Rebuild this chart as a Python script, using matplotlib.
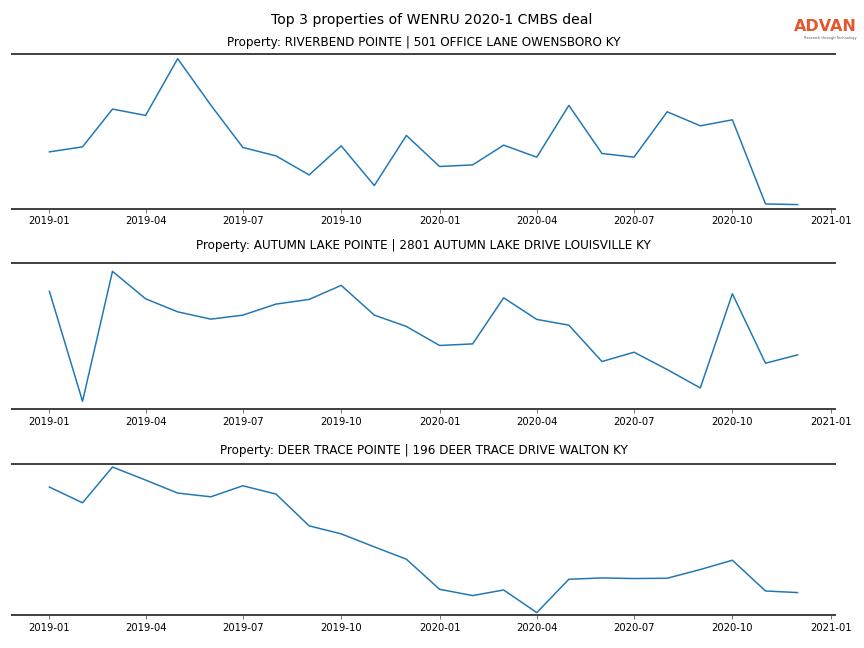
import pandas as pd
import matplotlib
matplotlib.use("Agg")
import matplotlib.pyplot as plt
import matplotlib.dates as mdates

# Monthly visit index per property
months = pd.date_range("2019-01-01", "2020-12-01", freq="MS")

riverbend = [57.0, 62.0, 99.7, 93.4, 150.0, 103.7, 61.4, 53.0, 34.0, 63.0, 23.4, 73.4,
             42.4, 44.0, 63.7, 51.7, 103.4, 55.4, 51.7, 97.0, 83.0, 89.0, 5.0, 4.4]
autumn_lake = [117.4, 7.7, 137.4, 110.0, 97.0, 89.7, 93.7, 104.7, 109.4, 123.4, 93.7, 82.4,
               63.4, 65.0, 111.0, 89.4, 83.7, 47.4, 56.7, 39.4, 21.0, 115.0, 45.7, 54.0]
deer_trace = [127.7, 112.0, 147.7, 134.7, 121.7, 118.0, 129.0, 120.7, 89.0, 81.0, 68.0, 55.7,
              25.7, 19.4, 25.0, 2.4, 35.7, 37.0, 36.4, 36.7, 45.4, 54.7, 24.0, 22.4]

titles = [
    "Property: RIVERBEND POINTE | 501 OFFICE LANE OWENSBORO KY",
    "Property: AUTUMN LAKE POINTE | 2801 AUTUMN LAKE DRIVE LOUISVILLE KY",
    "Property: DEER TRACE POINTE | 196 DEER TRACE DRIVE WALTON KY",
]
series = [riverbend, autumn_lake, deer_trace]
ylims = [(0, 154.7), (0, 145.7), (0, 150.7)]
pads = [8, 14, 10]

# axes boxes [left, bottom, width, height]
boxes = [
    [0.0139, 0.6775, 0.9525, 0.2392],
    [0.0139, 0.3688, 0.9525, 0.2253],
    [0.0139, 0.0509, 0.9525, 0.2330],
]

fig = plt.figure(figsize=(12, 9), dpi=72)
fig.suptitle("Top 3 properties of WENRU 2020-1 CMBS deal", fontsize=14,
             y=0.9625, va="baseline")

for box, vals, title, ylim, pad in zip(boxes, series, titles, ylims, pads):
    ax = fig.add_axes(box)
    ax.plot(months, vals, color="#1f77b4", linewidth=1.5)
    ax.set_title(title, fontsize=12, pad=pad)
    ax.set_ylim(*ylim)
    ax.set_yticks([])
    ax.xaxis.set_major_locator(mdates.MonthLocator(bymonth=[1, 4, 7, 10]))
    ax.xaxis.set_major_formatter(mdates.DateFormatter("%Y-%m"))
    ax.tick_params(axis="x", labelsize=10, length=4, color="#555555")
    for side in ["left", "right"]:
        ax.spines[side].set_visible(False)
    for side in ["top", "bottom"]:
        ax.spines[side].set_color("#444444")
        ax.spines[side].set_linewidth(2)

# logo
fig.text(0.992, 0.952, "ADVAN", color="#e4572e", fontsize=16, fontweight="bold",
         ha="right", va="baseline", family="DejaVu Sans")
fig.text(0.992, 0.939, "Research through Technology", color="#555555", fontsize=3.5,
         ha="right", va="bottom")

fig.savefig("out.png", dpi=72)
